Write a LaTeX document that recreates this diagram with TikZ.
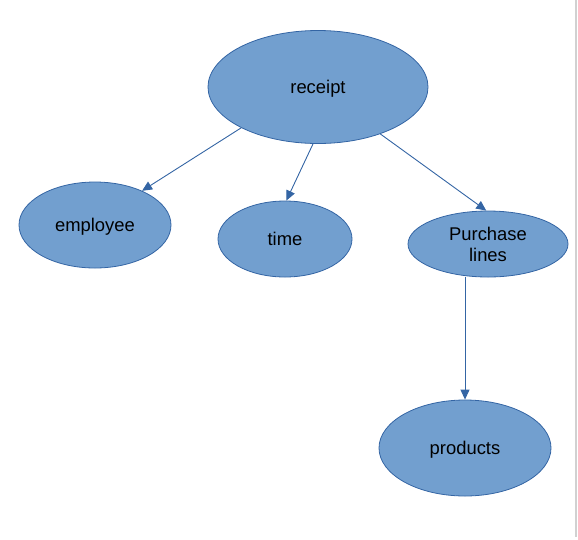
\documentclass[tikz,border=0pt]{standalone}
\usepackage{fontspec}
\setmainfont{Liberation Sans}
\usetikzlibrary{shapes.geometric,arrows.meta}
\definecolor{fillblue}{HTML}{729FCF}
\definecolor{lineblue}{HTML}{3465A4}
\tikzset{
  ent/.style={ellipse, draw=lineblue, fill=fillblue, line width=0.8pt, inner sep=0pt,
    font=\fontsize{18.4}{21}\selectfont, align=center, text=black, text depth=0pt},
  arr/.style={draw=lineblue, line width=0.9pt, -{Triangle[length=10pt,width=9pt]}}
}
\begin{document}
\begin{tikzpicture}[x=1pt,y=-1pt]
\useasboundingbox (0,0) rectangle (578,539);
\draw[black!18, line width=1.5pt] (576,0) -- (576,537);
\node[ent, minimum width=220pt, minimum height=113pt] (receipt) at (318,87) {receipt};
\node[ent, minimum width=152pt, minimum height=86pt] (employee) at (95,225) {employee};
\node[ent, minimum width=134pt, minimum height=76pt] (time) at (285,239) {time};
\node[ent, minimum width=160pt, minimum height=66pt] (purchase) at (488,244) {Purchase\\lines};
\node[ent, minimum width=172pt, minimum height=96pt] (products) at (465,448) {products};
\draw[arr] (receipt.208.7) -- (employee.36);
\draw[arr] (receipt.265) -- (time.88.5);
\draw[arr] (receipt.-37.2) -- (purchase.93.5);
\draw[arr] (products.north |- purchase.south) -- (products.north);
\end{tikzpicture}
\end{document}
